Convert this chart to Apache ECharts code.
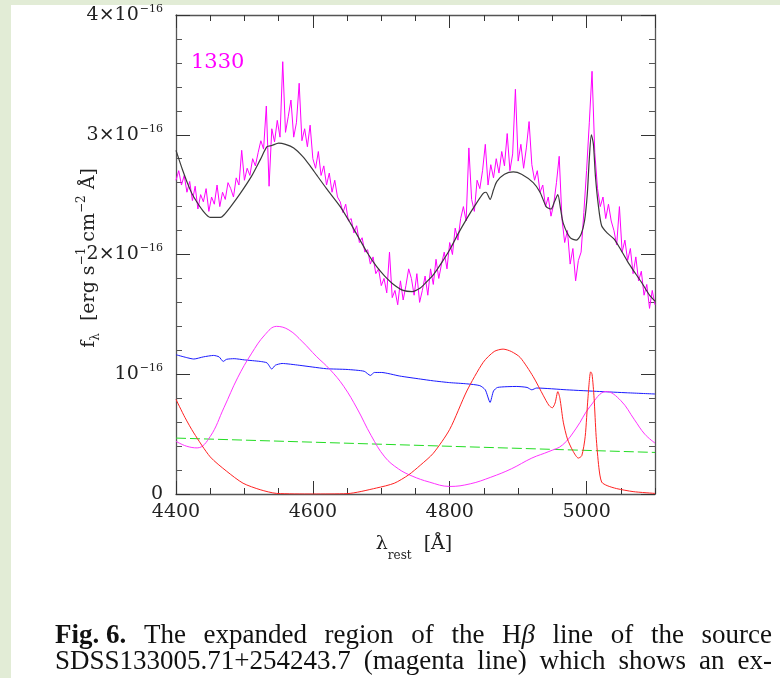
<!DOCTYPE html>
<html><head><meta charset="utf-8">
<script src="https://cdn.jsdelivr.net/npm/echarts@6/dist/echarts.min.js"></script>
<style>html,body{margin:0;padding:0;background:#fff}#c{width:780px;height:678px}</style>
</head><body><div id="c"></div><script>
// ---------- DATA (flux in units of 1e-16 erg s^-1 cm^-2 A^-1) ----------
const xTickLabels = [4400, 4600, 4800, 5000];
const yTickLabels = ['0', '10{sup|−16}', '2×10{sup|−16}', '3×10{sup|−16}', '4×10{sup|−16}'];
const sourceLabel = '1330';

// observed spectrum: sampled every 4 Å from 4400 Å
const obsStart = 4400, obsStep = 4;
const obsFlux = [
2.62, 2.70, 2.58, 2.66, 2.52, 2.61, 2.45, 2.57, 2.38, 2.50,
2.44, 2.55, 2.36, 2.48, 2.42, 2.58, 2.40, 2.52, 2.46, 2.60,
2.55, 2.48, 2.64, 2.58, 2.87, 2.62, 2.72, 2.66, 2.80, 2.74,
2.85, 2.95, 2.88, 3.24, 2.57, 3.05, 2.94, 3.12, 2.98, 3.61,
3.02, 3.15, 3.29, 2.98, 3.10, 3.43, 2.95, 3.05, 2.90, 3.08,
2.80, 2.72, 2.86, 2.66, 2.74, 2.58, 2.68, 2.52, 2.62, 2.48,
2.44, 2.35, 2.42, 2.28, 2.30, 2.18, 2.24, 2.10, 2.14, 2.02,
2.04, 1.92, 1.98, 1.84, 1.88, 1.74, 1.80, 1.68, 2.02, 1.64,
1.70, 1.58, 1.78, 1.62, 1.74, 1.88, 1.80, 1.66, 1.84, 1.60,
1.70, 1.82, 1.66, 1.88, 1.75, 1.96, 1.80, 1.92, 2.02, 1.88,
2.10, 2.00, 2.22, 2.12, 2.30, 2.40, 2.28, 2.89, 2.46, 2.36,
2.62, 2.55, 2.70, 2.92, 2.58, 2.75, 2.64, 2.80, 2.68, 2.86,
2.74, 3.01, 2.70, 2.84, 3.38, 2.78, 2.92, 2.72, 2.89, 3.11,
2.75, 2.62, 2.70, 2.52, 2.58, 2.40, 2.48, 2.32, 2.42, 2.60,
2.82, 2.30, 2.10, 2.20, 1.92, 2.05, 1.78, 1.95, 2.02, 2.35,
2.70, 3.10, 3.53, 2.85, 2.55, 2.40, 2.48, 2.30, 2.42, 2.28,
2.20, 2.08, 2.40, 2.02, 2.12, 1.95, 2.05, 1.84, 1.98, 1.78,
1.86, 1.66, 1.75, 1.55, 1.70, 1.58
];

// total model (black)
const modelX = [4400,4410,4420,4426,4440,4450,4465,4470,4480,4494,4510,4523,4533,4540,4550,4560,4572,4585,4596,4606,4620,4640,4655,4669,4680,4693,4705,4718,4732,4745,4757,4766,4776,4788,4800,4812,4825,4837,4849,4853,4859,4864,4869,4880,4893,4905,4922,4932,4941,4948,4953,4958,4962,4966,4976,4985,4992,4997,5001,5004,5007,5010,5013,5017,5022,5030,5040,5050,5060,5068,5080,5092,5100];
const modelY = [2.87,2.70,2.55,2.48,2.36,2.31,2.31,2.33,2.40,2.51,2.65,2.79,2.90,2.91,2.93,2.92,2.89,2.82,2.74,2.66,2.55,2.40,2.26,2.12,2.01,1.90,1.82,1.75,1.70,1.69,1.72,1.77,1.83,1.93,2.04,2.17,2.30,2.41,2.51,2.52,2.46,2.54,2.61,2.67,2.69,2.67,2.60,2.52,2.40,2.38,2.44,2.50,2.38,2.26,2.14,2.12,2.17,2.28,2.50,2.80,3.00,2.92,2.65,2.42,2.24,2.18,2.13,2.04,1.94,1.87,1.77,1.66,1.61];

// stellar / continuum component (blue)
const blueX = [4400,4415,4426,4440,4455,4463,4469,4474,4485,4500,4523,4533,4540,4545,4555,4580,4600,4620,4650,4675,4684,4690,4700,4727,4757,4776,4800,4825,4844,4852,4859,4864,4870,4898,4913,4920,4927,4971,5019,5060,5100];
const blueY = [1.163,1.14,1.127,1.145,1.157,1.145,1.107,1.125,1.13,1.12,1.107,1.095,1.043,1.075,1.09,1.075,1.06,1.046,1.04,1.025,0.99,1.015,1.015,0.985,0.96,0.945,0.93,0.92,0.905,0.87,0.765,0.86,0.89,0.898,0.89,0.87,0.885,0.87,0.856,0.845,0.835];

// power-law (green dashed)
const greenX = [4400, 5100];
const greenY = [0.467, 0.347];

// broad component (magenta smooth)
const broadX = [4400,4415,4431,4450,4470,4490,4510,4530,4547,4565,4585,4605,4625,4645,4665,4685,4705,4725,4745,4770,4800,4830,4860,4890,4920,4945,4965,4985,5005,5029,5050,5070,5085,5100];
const broadY = [0.44,0.40,0.385,0.48,0.72,0.97,1.17,1.33,1.40,1.37,1.27,1.15,1.04,0.90,0.71,0.49,0.31,0.21,0.15,0.10,0.063,0.085,0.14,0.21,0.30,0.355,0.41,0.55,0.73,0.856,0.78,0.62,0.50,0.425];

// narrow-line / Fe component (red)
const redX = [4400,4413,4426,4450,4474,4498,4523,4547,4600,4650,4693,4719,4740,4757,4776,4800,4825,4849,4865,4878,4890,4903,4922,4937,4945,4950,4954,4958,4961,4966,4972,4980,4988,4993,4998,5002,5006,5008,5011,5014,5018,5022,5030,5044,5068,5100];
const redY = [0.79,0.64,0.51,0.31,0.19,0.09,0.036,0.005,0,0.003,0.05,0.09,0.16,0.24,0.34,0.54,0.86,1.10,1.19,1.21,1.19,1.14,0.98,0.82,0.74,0.72,0.76,0.855,0.80,0.60,0.46,0.36,0.30,0.32,0.48,0.80,1.02,1.00,0.80,0.48,0.22,0.10,0.07,0.045,0.02,0.005];

// ---------- CHART ----------
const pair = (xs, ys) => xs.map((x, i) => [x, ys[i]]);
const obsData = obsFlux.map((v, i) => [obsStart + i * obsStep, v]);

const SERIF = 'DejaVu Serif';
const AX = '#555';
const TXT = '#222';
const grid = {left: 176, top: 15, width: 479, height: 479};

function xAx(pos, interval, len, showLine, showLabel) {
  return {
    type: 'value', position: pos, min: 4400, max: 5100, interval: interval,
    axisLine: {show: showLine, lineStyle: {color: AX, width: 1.3}},
    axisTick: {show: true, inside: true, length: len, lineStyle: {color: '#333', width: 1}},
    axisLabel: {show: showLabel, margin: 9, fontFamily: SERIF, fontSize: 19, color: TXT,
      showMaxLabel: false,
      formatter: v => xTickLabels.indexOf(v) >= 0 ? String(v) : ''},
    splitLine: {show: false}
  };
}
function yAx(pos, showLabel) {
  return {
    type: 'value', position: pos, min: 0, max: 4, interval: 1,
    axisLine: {show: true, lineStyle: {color: AX, width: 1.3}},
    axisTick: {show: true, inside: true, length: 14, lineStyle: {color: '#333', width: 1}},
    minorTick: {show: true, splitNumber: 5, length: 6, lineStyle: {color: '#555', width: 1}},
    axisLabel: {show: showLabel, margin: 13, fontFamily: SERIF, fontSize: 19, color: TXT,
      formatter: v => yTickLabels[Math.round(v)] || '',
      rich: {sup: {fontFamily: SERIF, fontSize: 11, color: TXT, padding: [0, 0, 12, 1]}}},
    splitLine: {show: false}, minorSplitLine: {show: false}
  };
}

// caption justification helpers
const mctx = document.createElement('canvas').getContext('2d');
function mw(text, font) { mctx.font = font; return mctx.measureText(text).width; }
const CF = 27;
const fontOf = s => (s === 'b' ? 'bold ' : s === 'i' ? 'italic ' : '') + CF + 'px "Liberation Serif"';
const captionLine1 = [[['Fig. 6.', 'b']], [['The', 'n']], [['expanded', 'n']], [['region', 'n']], [['of', 'n']], [['the', 'n']], [['H', 'n'], ['β', 'i']], [['line', 'n']], [['of', 'n']], [['the', 'n']], [['source', 'n']]];
const captionLine2 = [[['SDSS133005.71+254243.7', 'n']], [['(magenta', 'n']], [['line)', 'n']], [['which', 'n']], [['shows', 'n']], [['an', 'n']], [['ex-', 'n']]];
function justify(words, x0, x1, y) {
  const widths = words.map(w => w.reduce((s, p) => s + mw(p[0], fontOf(p[1])), 0));
  const total = widths.reduce((a, b) => a + b, 0);
  const gap = (x1 - x0 - total) / (words.length - 1);
  const els = [];
  let x = x0;
  words.forEach((w, i) => {
    let px = x;
    w.forEach(p => {
      els.push({type: 'text', x: px, y: y, silent: true,
        style: {text: p[0], font: fontOf(p[1]), fill: '#111', align: 'left', verticalAlign: 'middle'}});
      px += mw(p[0], fontOf(p[1]));
    });
    x += widths[i] + gap;
  });
  return els;
}

const graphics = [
  {type: 'rect', shape: {x: 0, y: 0, width: 780, height: 5}, style: {fill: '#e2ecd6'}, silent: true, z: -10},
  {type: 'rect', shape: {x: 0, y: 0, width: 11, height: 678}, style: {fill: '#e2ecd6'}, silent: true, z: -10},
  {type: 'text', x: 191, y: 63, silent: true,
    style: {text: sourceLabel, fontFamily: SERIF, fontSize: 21, fill: '#ff00ff', align: 'left', verticalAlign: 'middle'}},
  {type: 'text', x: 414, y: 544, silent: true,
    style: {text: 'λ{sub|rest}  [Å]', fontFamily: SERIF, fontSize: 19, fill: TXT, align: 'center', verticalAlign: 'middle',
      rich: {sub: {fontFamily: SERIF, fontSize: 12, fill: TXT, padding: [24, 0, 0, 0]}}}},
  {type: 'text', x: 89, y: 258, rotation: Math.PI / 2, silent: true,
    style: {text: 'f{sub|λ}  [erg s{sup|−1} cm{sup|−2} Å]', fontFamily: SERIF, fontSize: 19, fill: TXT, align: 'center', verticalAlign: 'middle',
      rich: {sub: {fontFamily: SERIF, fontSize: 12, fill: TXT, padding: [14, 0, 0, 0]},
             sup: {fontFamily: SERIF, fontSize: 12, fill: TXT, padding: [0, 0, 14, 0]}}}}
].concat(justify(captionLine1, 55, 772, 636), justify(captionLine2, 55, 772, 662));

const chart = echarts.init(document.getElementById('c'), null, {renderer: 'canvas'});
chart.setOption({
  animation: false,
  backgroundColor: '#ffffff',
  grid: grid,
  xAxis: [xAx('bottom', 200, 13, true, true), xAx('bottom', 50, 6, false, false),
          xAx('top', 200, 13, true, false), xAx('top', 50, 6, false, false)],
  yAxis: [yAx('left', true), yAx('right', false)],
  graphic: graphics,
  series: [
    {type: 'line', data: obsData, symbol: 'none', lineStyle: {color: '#ff00ff', width: 1}, z: 2},
    {type: 'line', data: pair(modelX, modelY), symbol: 'none', smooth: 0.25, lineStyle: {color: '#3a3a3a', width: 1.2}, z: 3},
    {type: 'line', data: pair(blueX, blueY), symbol: 'none', smooth: 0.2, lineStyle: {color: '#1a1aff', width: 1}, z: 2},
    {type: 'line', data: pair(greenX, greenY), symbol: 'none', lineStyle: {color: '#22dd22', width: 1, type: [10, 4]}, z: 2},
    {type: 'line', data: pair(broadX, broadY), symbol: 'none', smooth: 0.4, lineStyle: {color: '#ff33ff', width: 1}, z: 2},
    {type: 'line', data: pair(redX, redY), symbol: 'none', smooth: 0.25, lineStyle: {color: '#ff2222', width: 1}, z: 2}
  ]
});
</script></body></html>
